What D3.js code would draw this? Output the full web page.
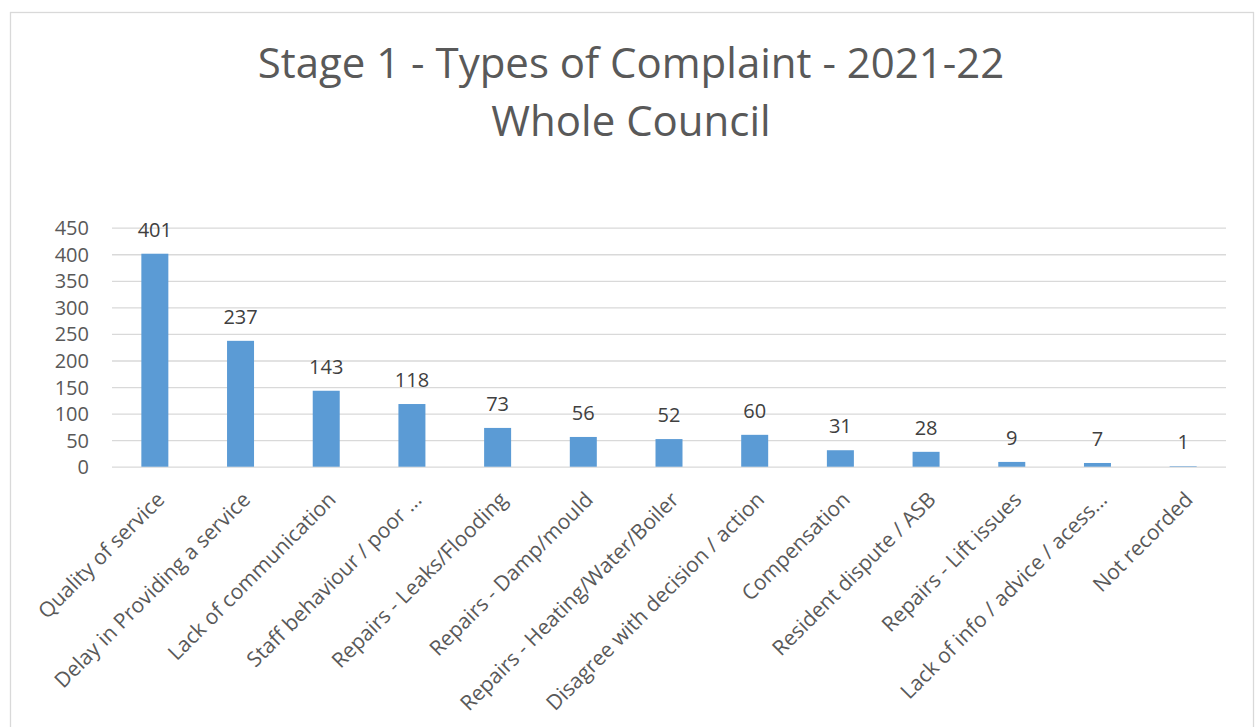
<!DOCTYPE html>
<html>
<head>
<meta charset="utf-8">
<script src="https://cdn.jsdelivr.net/npm/d3@7"></script>
<style>
  body { margin: 0; background: #fff; }
  svg { display: block; }
  text { font-family: "Open Sans", sans-serif; }
</style>
</head>
<body>
<div id="chart"></div>
<script>
var titleLines = ["Stage 1 - Types of Complaint - 2021-22", "Whole Council"];
var categories = [
    "Quality of service",
    "Delay in Providing a service",
    "Lack of communication",
    "Staff behaviour / poor ...",
    "Repairs - Leaks/Flooding",
    "Repairs - Damp/mould",
    "Repairs - Heating/Water/Boiler",
    "Disagree with decision / action",
    "Compensation",
    "Resident dispute / ASB",
    "Repairs - Lift issues",
    "Lack of info / advice / acess...",
    "Not recorded"
];
var values = [401, 237, 143, 118, 73, 56, 52, 60, 31, 28, 9, 7, 1];
var yTicks = [0, 50, 100, 150, 200, 250, 300, 350, 400, 450];

var width = 1255,
    height = 727,
    margin = {top: 227.7, right: 29, bottom: 260.3, left: 112};

var svg = d3.select("#chart").append("svg")
    .attr("width", width)
    .attr("height", height);

// chart area border
svg.append("rect")
    .attr("x", 10.5)
    .attr("y", 12.5)
    .attr("width", 1243)
    .attr("height", 730)
    .attr("fill", "#fff")
    .attr("stroke", "#d9d9d9")
    .attr("stroke-width", 1.3);

// title, fitted to the width of the original one
var title = svg.append("g");
title.selectAll("text")
    .data(titleLines)
    .enter().append("text")
    .attr("x", 631)
    .attr("y", function(d, i) { return 78 + i * 58; })
    .attr("text-anchor", "middle")
    .attr("fill", "#595959")
    .style("font-size", "40px")
    .text(function(d) { return d; });
var tw = title.select("text").node().getComputedTextLength();
title.selectAll("text").style("font-size", (40 * 747 / tw) + "px");

var x = d3.scaleBand()
    .domain(categories)
    .range([margin.left, width - margin.right])
    .paddingInner(0.685)
    .paddingOuter(0.3425);

var y = d3.scaleLinear()
    .domain([0, 450])
    .range([height - margin.bottom, margin.top]);

// gridlines + y labels
var yAxis = svg.append("g")
    .attr("transform", "translate(" + margin.left + ",0)")
    .call(d3.axisLeft(y)
        .tickValues(yTicks)
        .tickSize(-(width - margin.left - margin.right))
        .tickPadding(23));
yAxis.select(".domain").remove();
yAxis.selectAll(".tick line")
    .attr("stroke", "#d9d9d9")
    .attr("stroke-width", 1.3);
yAxis.selectAll(".tick text")
    .attr("fill", "#595959")
    .style("font-size", "20px")
    .attr("dy", "0.35em");

// bars
svg.append("g").selectAll("rect")
    .data(values)
    .enter().append("rect")
    .attr("x", function(d, i) { return x(categories[i]); })
    .attr("y", function(d) { return y(d); })
    .attr("width", x.bandwidth())
    .attr("height", function(d) { return y(0) - y(d); })
    .attr("fill", "#5b9bd5");

// data labels
svg.append("g").selectAll("text")
    .data(values)
    .enter().append("text")
    .attr("x", function(d, i) { return x(categories[i]) + x.bandwidth() / 2; })
    .attr("y", function(d) { return y(d) - 17; })
    .attr("text-anchor", "middle")
    .attr("fill", "#404040")
    .style("font-size", "20px")
    .text(function(d) { return d; });

// category labels, rotated
svg.append("g").selectAll("text")
    .data(categories)
    .enter().append("text")
    .attr("transform", function(d) {
        return "translate(" + (x(d) + x.bandwidth() / 2 + 11) + ",501) rotate(-45)";
    })
    .attr("text-anchor", "end")
    .attr("fill", "#595959")
    .style("font-size", "21px")
    .text(function(d) { return d; });
</script>
</body>
</html>
